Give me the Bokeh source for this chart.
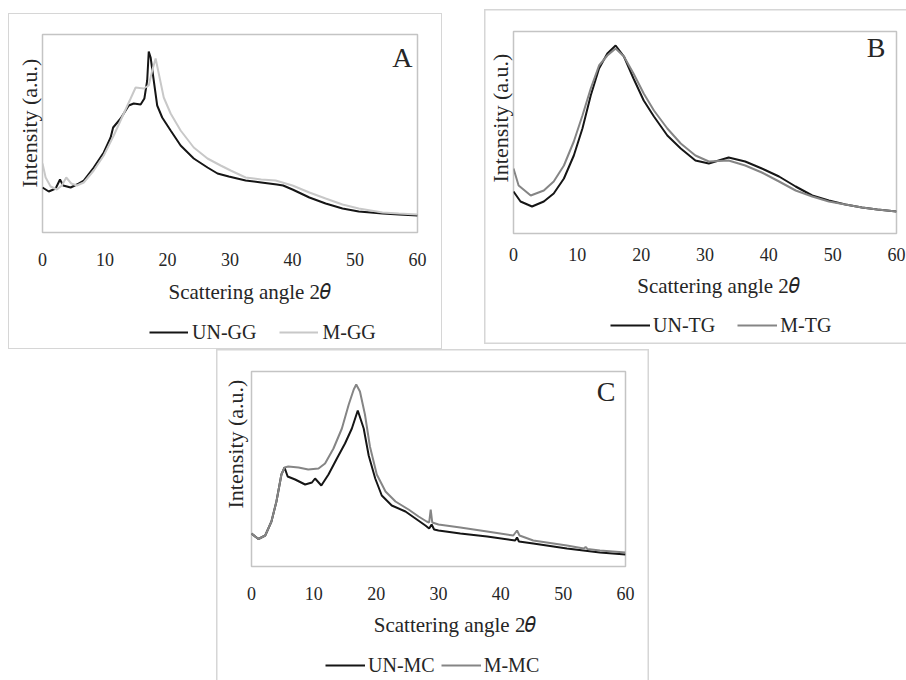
from bokeh.plotting import figure
from bokeh.models import Range1d, FixedTicker, Label, Legend, LegendItem, Spacer, Title
from bokeh.layouts import row, column
from bokeh.embed import file_html
from bokeh.resources import INLINE

# ---------------- data (arbitrary intensity units) ----------------
X_TICKS = [0, 10, 20, 30, 40, 50, 60]

# Panel A
un_gg_x = [0, 0.5, 1.0, 2.1, 2.8, 3.3, 4.5, 5.5, 6.6, 8.2, 9.8, 10.9, 11.3, 12.5, 13.8, 14.6, 15.7,
           16.3, 16.75, 17.0, 17.3, 17.8, 18.35, 19.15, 20.5, 22.1, 24.2, 26.4, 28.0, 29.8, 32.5,
           35.0, 37.5, 38.5, 40.0, 42.7, 45.3, 48.0, 50.6, 54.4, 57.0, 60.0]
un_gg_y = [45, 43, 41, 44, 53, 47, 45, 48, 52, 65, 80, 95, 105, 114, 127, 129, 128,
           134, 152, 181, 175, 152, 127, 115, 102, 87, 74, 65, 59, 56, 52,
           50, 48, 47, 43, 35, 29, 24, 21, 19, 18, 17]
m_gg_x = [0, 0.5, 1.3, 2.3, 3.1, 3.8, 4.6, 5.5, 6.6, 8.2, 9.8, 11.4, 13.0, 14.1, 14.9, 16.2, 17.0,
          17.55, 18.1, 18.6, 19.4, 20.5, 22.1, 24.2, 26.4, 28.5, 30.1, 32.5, 35.0, 37.3, 40.0,
          42.7, 45.3, 48.0, 50.6, 54.4, 57.0, 60.0]
m_gg_y = [69, 55, 46, 43, 47, 55, 49, 47, 50, 62, 77, 97, 119, 134, 145, 144, 147,
          162, 174, 159, 135, 119, 102, 85, 74, 67, 62, 55, 53, 52, 47,
          40, 34, 28, 24, 20, 19, 18]

# Panel B
un_tg_x = [0, 1.1, 2.9, 4.75, 6.3, 7.9, 9.45, 10.8, 12.1, 13.4, 14.7, 16.0, 17.3, 18.8, 20.4, 22.0,
           24.1, 26.2, 28.5, 30.6, 33.7, 36.3, 38.9, 41.6, 44.2, 46.8, 49.4, 52.0, 54.6, 57.0, 60.0]
un_tg_y = [42, 32, 27, 32, 40, 55, 78, 105, 138, 165, 180, 188, 177, 155, 133, 117,
           98, 85, 73, 70, 76, 72, 65, 57, 47, 38, 33, 29, 26, 24, 22]
m_tg_x = [0, 0.8, 2.7, 4.75, 6.3, 7.9, 9.45, 10.8, 12.1, 13.4, 14.7, 16.0, 17.3, 18.8, 20.4, 22.0,
          24.1, 26.2, 28.5, 30.6, 33.7, 36.3, 38.9, 41.6, 44.2, 46.8, 49.4, 52.0, 54.6, 57.0, 60.0]
m_tg_y = [65, 48, 38, 43, 52, 68, 92, 118, 145, 168, 178, 185, 177, 160, 140, 123,
          105, 90, 78, 72, 73, 68, 61, 52, 43, 37, 32, 29, 26, 24, 22]

# Panel C
un_mc_x = [0, 1.1, 2.2, 3.2, 4.0, 4.8, 5.3, 5.8, 7.0, 8.6, 9.7, 10.2, 11.2, 12.35, 13.7, 15.0,
           16.1, 17.05, 18.0, 18.8, 19.85, 20.9, 22.5, 24.7, 26.3, 27.9, 28.5, 28.9, 29.3, 30.0,
           33.5, 37.8, 42.3, 42.6, 42.9, 45.2, 50.6, 55.9, 60.0]
un_mc_y = [33, 27.5, 31, 45, 65, 92, 99, 90, 87, 82, 84, 88, 81, 92, 108, 123,
           138, 156, 138, 111, 88, 71, 61, 55, 48, 41, 38, 42, 37, 36,
           33, 30, 26, 29, 25, 23, 18, 14, 12]
m_mc_x = [0, 1.1, 2.2, 3.2, 4.0, 4.8, 5.3, 5.9, 7.55, 9.1, 10.75, 11.8, 13.15, 14.5, 15.6, 16.4,
          16.8, 17.4, 18.2, 19.0, 20.1, 21.5, 23.1, 25.2, 26.8, 28.1, 28.5, 28.75, 29.0, 30.0,
          33.5, 37.8, 42.0, 42.6, 43.0, 45.2, 50.6, 53.3, 53.6, 53.9, 55.9, 60.0]
m_mc_y = [33, 27.5, 31, 45, 65, 92, 99, 100, 99, 97, 98, 103, 118, 138, 162, 177,
          182, 175, 152, 120, 92, 75, 65, 57, 50, 45, 44, 57, 44, 42,
          39, 35, 31, 36, 31, 26, 21, 18, 19.5, 17.5, 16, 14]

X_TITLE = "Scattering angle 2\U0001D703"
Y_TITLE = "Intensity (a.u.)"

# ---------------- styling ----------------
FONT = "Liberation Serif"
TXT = "#262626"
BLACK = "#151515"
FRAME = "#c4c4c4"
BORDER = "#d6d6d6"


def edges(left=True, top=True, right=True, bottom=True):
    parts = []
    if left:
        parts.append("inset 1.5px 0 0 0 " + BORDER)
    if right:
        parts.append("inset -1.5px 0 0 0 " + BORDER)
    if top:
        parts.append("inset 0 1.5px 0 0 " + BORDER)
    if bottom:
        parts.append("inset 0 -1.5px 0 0 " + BORDER)
    return {"box-shadow": ", ".join(parts)}


def bare(p):
    p.background_fill_color = None
    p.border_fill_color = None
    p.xgrid.visible = False
    p.ygrid.visible = False


def panel(w, h, borders, yh, series, letter, letter_xy, tick_standoff,
          ytitle_offset, ytitle_standoff, lh, xtitle_xy, leg, frame_style):
    # ---- main plot: frame, curves, x tick labels, y title ----
    p = figure(width=w, height=h, x_range=Range1d(0, 60), y_range=Range1d(0, yh),
               output_backend="svg", toolbar_location=None, y_axis_location=None,
               min_border_left=borders[0], min_border_right=borders[1],
               min_border_top=borders[2], min_border_bottom=borders[3])
    bare(p)
    p.outline_line_color = FRAME
    p.outline_line_width = 1.5

    ax = p.xaxis[0]
    ax.ticker = FixedTicker(ticks=X_TICKS, minor_ticks=[])
    ax.axis_line_color = None
    ax.major_tick_line_color = None
    ax.minor_tick_line_color = None
    ax.major_tick_out = 0
    ax.major_tick_in = 0
    ax.major_label_standoff = tick_standoff
    ax.major_label_text_font = FONT
    ax.major_label_text_font_size = "18px"
    ax.major_label_text_color = TXT

    for (xs, ys, name, color) in series:
        p.line(xs, ys, line_color=color, line_width=2)

    p.add_layout(Title(text=Y_TITLE, align="left", offset=ytitle_offset,
                       standoff=ytitle_standoff, vertical_align="bottom",
                       text_font=FONT, text_font_size="22px", text_font_style="normal",
                       text_color=TXT), "left")
    p.add_layout(Label(x=letter_xy[0], y=letter_xy[1], text=letter, text_font=FONT,
                       text_font_size="28px", text_color=TXT, text_align="right",
                       text_baseline="alphabetic"))

    # ---- strip below (its frame is aligned with the plot frame): x title and legend ----
    fw = w - borders[0] - borders[1]
    q = figure(width=w, height=lh, x_range=Range1d(0, fw), y_range=Range1d(lh, 0),
               output_backend="svg", toolbar_location=None,
               x_axis_location=None, y_axis_location=None, min_border=0)
    bare(q)
    q.outline_line_color = None
    q.add_layout(Label(x=xtitle_xy[0], y=xtitle_xy[1], text=X_TITLE, text_font=FONT,
                       text_font_size="21px", text_color=TXT, text_align="left",
                       text_baseline="alphabetic"))
    items = []
    for (xs, ys, name, color) in series:
        proxy = q.line(x=[-1000], y=[-1000], line_color=color, line_width=2)
        items.append(LegendItem(label=name, renderers=[proxy]))
    vx, vy, sp, ls, gw = leg
    q.add_layout(Legend(items=items, location=(vx, vy), orientation="horizontal",
                        padding=0, margin=0, spacing=sp, label_standoff=ls, glyph_width=gw,
                        glyph_height=20, label_height=20, border_line_color=None,
                        background_fill_alpha=0, label_text_font=FONT,
                        label_text_font_size="20px", label_text_color=TXT))

    return column(p, q, styles=frame_style)


pA = panel(434, 263, (34, 25, 21, 44), 198,
           [(un_gg_x, un_gg_y, "UN-GG", BLACK), (m_gg_x, m_gg_y, "M-GG", "#c8c8c8")],
           "A", (59.2, 175), 20, 45, 2, 73, (126, 15), (107, 5.5, 23, 4, 39),
           {"outline": "1.5px solid " + BORDER, "outline-offset": "-1.5px"})
pB = panel(422, 262, (29, 10, 22, 38), 202,
           [(un_tg_x, un_tg_y, "UN-TG", BLACK), (m_tg_x, m_tg_y, "M-TG", "#858585")],
           "B", (58.28, 186), 14, 51, 2, 73, (123.7, 14), (97, 7.5, 22, 3, 40),
           edges(right=False))
pC = panel(433, 261, (35, 24, 22, 44), 195,
           [(un_mc_x, un_mc_y, "UN-MC", BLACK), (m_mc_x, m_mc_y, "M-MC", "#858585")],
           "C", (58.4, 175), 20, 58, 7, 70, (122.3, 14.7), (74, 3.5, 6, 3, 40),
           edges(bottom=False))

layout = column(
    row(Spacer(width=8, height=349), column(Spacer(width=434, height=13), pA),
        Spacer(width=42, height=349), column(Spacer(width=422, height=9), pB)),
    row(Spacer(width=216, height=331), pC),
)

open("out.html", "w").write(file_html(layout, INLINE))
